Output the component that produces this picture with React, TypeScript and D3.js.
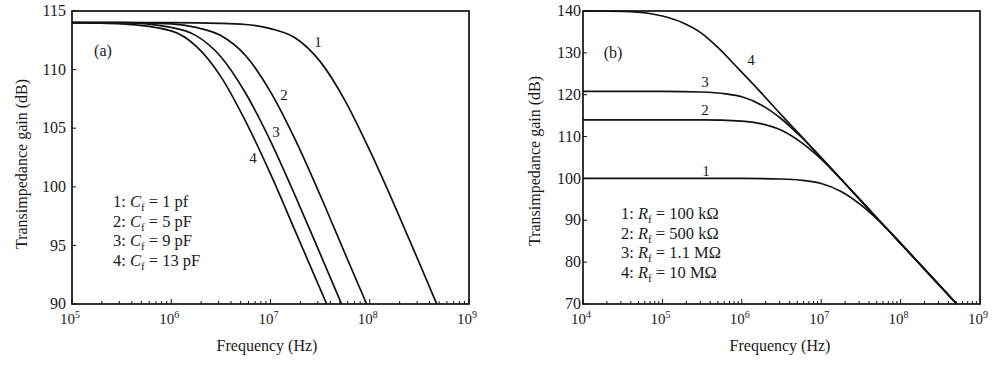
import React from 'react';
import * as d3 from 'd3';

type Pt = [number, number];

// ---------- Panel (a): feedback capacitance ----------
const aXDomain: [number, number] = [1e5, 1e9];
const aYDomain: [number, number] = [90, 115];
const aYTicks = [90, 95, 100, 105, 110, 115];
const aXTickExps = [5, 6, 7, 8, 9];

const aCurve1: Pt[] = [[1e5, 114], [1e6, 114], [3.16e6, 113.95], [5.6e6, 113.85], [1e7, 113.5], [1.78e7, 112.7], [3.16e7, 110.7], [5.6e7, 107.4], [1e8, 103.1], [1.78e8, 98.4], [3.16e8, 93.5], [4.73e8, 90]];
const aCurve2: Pt[] = [[1e5, 114], [3.16e5, 114], [1e6, 113.9], [1.78e6, 113.6], [3.16e6, 112.9], [5.6e6, 111.2], [1e7, 108.1], [1.78e7, 104.0], [3.16e7, 99.3], [5.6e7, 94.35], [9.3e7, 90]];
const aCurve3: Pt[] = [[1e5, 114], [3.16e5, 114], [1e6, 113.6], [1.78e6, 112.9], [3.16e6, 111.1], [5.6e6, 108.0], [1e7, 103.9], [1.78e7, 99.2], [3.16e7, 94.3], [5.2e7, 90]];
const aCurve4: Pt[] = [[1e5, 114], [3.16e5, 113.9], [1e6, 113.3], [1.78e6, 112.0], [3.16e6, 109.4], [5.6e6, 105.6], [1e7, 101.1], [1.78e7, 96.2], [3.16e7, 91.3], [3.68e7, 90]];
const aCurveLabels = ['1', '2', '3', '4'];
const aLegendSymbol = 'C';
const aLegendValues = ['1 pf', '5 pF', '9 pF', '13 pF'];

// ---------- Panel (b): feedback resistance ----------
const bXDomain: [number, number] = [1e4, 1e9];
const bYDomain: [number, number] = [70, 140];
const bYTicks = [70, 80, 90, 100, 110, 120, 130, 140];
const bXTickExps = [4, 5, 6, 7, 8, 9];

const bCurve1: Pt[] = [[1e4, 100], [1e6, 100], [3.16e6, 99.86], [5.6e6, 99.57], [1e7, 98.8], [1.78e7, 96.9], [3.16e7, 93.7], [5.6e7, 89.5], [1e8, 84.5], [2.24e8, 77.3], [5.1e8, 70]];
const bCurve2: Pt[] = [[1e4, 114], [3.16e5, 114], [1e6, 113.7], [1.78e6, 113.05], [3.16e6, 111.5], [5.6e6, 108.6], [1e7, 104.6], [1.78e7, 99.8], [3.16e7, 94.7], [5.6e7, 89.6], [1e8, 84.5], [2.24e8, 77.3], [5.1e8, 70]];
const bCurve3: Pt[] = [[1e4, 120.8], [1e5, 120.8], [3.16e5, 120.65], [6.3e5, 120.2], [1e6, 119.5], [1.78e6, 117.5], [3.16e6, 114.2], [5.6e6, 109.9], [1e7, 105.0], [1.78e7, 99.8], [3.16e7, 94.7], [5.6e7, 89.6], [1e8, 84.5], [2.24e8, 77.3], [5.1e8, 70]];
const bCurve4: Pt[] = [[1e4, 140], [3.16e4, 139.9], [6.9e4, 139.4], [1e5, 138.8], [1.8e5, 137.2], [3.16e5, 134.6], [4.8e5, 131.6], [9.3e5, 126.0], [1.58e6, 121.4], [3.0e6, 115.6], [5.6e6, 110.1], [1e7, 104.9], [1.78e7, 99.8], [3.16e7, 94.7], [5.6e7, 89.6], [1e8, 84.5], [2.24e8, 77.3], [5.1e8, 70]];
const bCurveLabels = ['1', '2', '3', '4'];
const bLegendSymbol = 'R';
const bLegendValues = ['100 k\u03A9', '500 k\u03A9', '1.1 M\u03A9', '10 M\u03A9'];

const xTitle = 'Frequency (Hz)';
const yTitle = 'Transimpedance gain (dB)';

const FONT = '"Liberation Serif", "Times New Roman", serif';

interface PanelProps {
  xDomain: [number, number];
  yDomain: [number, number];
  yTicks: number[];
  xTickExps: number[];
  curves: Pt[][];
  curveLabels: string[];
  curveLabelPos: [number, number][];
  tag: string;
  tagPos: [number, number];
  legendSymbol: string;
  legendValues: string[];
  legendPos: [number, number];
  left: number;
  right: number;
  top: number;
  bottom: number;
  yLabelGap: number;
  yTitleX: number;
  yTitleY: number;
  xTitleX: number;
}

function Panel(p: PanelProps) {
  const x = d3.scaleLog().domain(p.xDomain).range([p.left, p.right]);
  const y = d3.scaleLinear().domain(p.yDomain).range([p.bottom, p.top]);
  const line = d3
    .line<Pt>()
    .x((d) => x(d[0]))
    .y((d) => y(d[1]))
    .curve(d3.curveMonotoneX);
  const allTicks = x.ticks();
  const isMajor = (v: number) => Math.abs(Math.log10(v) - Math.round(Math.log10(v))) < 1e-6;

  return (
    <g fontFamily={FONT} fill="#1a1a1a">
      {p.curves.map((c, i) => (
        <path key={'c' + i} d={line(c) || ''} fill="none" stroke="#111" strokeWidth={1.7} strokeLinejoin="round" />
      ))}
      <rect x={p.left} y={p.top} width={p.right - p.left} height={p.bottom - p.top} fill="none" stroke="#111" strokeWidth={1.7} />
      {allTicks.map((v, i) => (
        <line key={'xt' + i} x1={x(v)} x2={x(v)} y1={p.bottom} y2={p.bottom - (isMajor(v) ? 5 : 3)} stroke="#111" strokeWidth={1} />
      ))}
      {p.yTicks.map((v, i) => (
        <line key={'yt' + i} x1={p.left} x2={p.left + 4} y1={y(v)} y2={y(v)} stroke="#111" strokeWidth={1} />
      ))}
      {p.yTicks.map((v, i) => (
        <text key={'yl' + i} x={p.left - p.yLabelGap} y={y(v)} dy="0.32em" textAnchor="end" fontSize={16}>
          {v}
        </text>
      ))}
      {p.xTickExps.map((e, i) => (
        <text key={'xl' + i} x={x(Math.pow(10, e)) - 2} y={324} textAnchor="middle" fontSize={15}>
          <tspan>10</tspan>
          <tspan dy={-6} fontSize={10}>{e}</tspan>
        </text>
      ))}
      <text x={p.xTitleX} y={351} textAnchor="middle" fontSize={16}>
        {xTitle}
      </text>
      <text transform={`translate(${p.yTitleX},${p.yTitleY}) rotate(-90)`} textAnchor="middle" fontSize={16}>
        {yTitle}
      </text>
      <text x={p.tagPos[0]} y={p.tagPos[1]} textAnchor="middle" dy="0.35em" fontSize={16}>
        {p.tag}
      </text>
      {p.curveLabels.map((l, i) => (
        <text key={'cl' + i} x={p.curveLabelPos[i][0]} y={p.curveLabelPos[i][1]} dy="0.35em" textAnchor="middle" fontSize={15}>
          {l}
        </text>
      ))}
      {p.legendValues.map((v, i) => (
        <text key={'lg' + i} x={p.legendPos[0]} y={p.legendPos[1] + i * 19.7} fontSize={16.5}>
          <tspan>{i + 1}: </tspan>
          <tspan fontStyle="italic">{p.legendSymbol}</tspan>
          <tspan dy={4} fontSize={11}>f</tspan>
          <tspan dy={-4}> = {v}</tspan>
        </text>
      ))}
    </g>
  );
}

export default function App() {
  return (
    <svg
      width={1008}
      height={367}
      viewBox="0 0 1008 367"
      style={{ position: 'absolute', left: 0, top: 0, background: '#fff' }}
    >
      <rect x={0} y={0} width={1008} height={367} fill="#fff" />
      <Panel
        xDomain={aXDomain}
        yDomain={aYDomain}
        yTicks={aYTicks}
        xTickExps={aXTickExps}
        curves={[aCurve1, aCurve2, aCurve3, aCurve4]}
        curveLabels={aCurveLabels}
        curveLabelPos={[[318, 42], [284, 95], [276, 132], [253, 158]]}
        tag="(a)"
        tagPos={[103, 50]}
        legendSymbol={aLegendSymbol}
        legendValues={aLegendValues}
        legendPos={[113, 207]}
        left={72}
        right={469}
        top={11}
        bottom={304}
        yLabelGap={6}
        yTitleX={27}
        yTitleY={164}
        xTitleX={267}
      />
      <Panel
        xDomain={bXDomain}
        yDomain={bYDomain}
        yTicks={bYTicks}
        xTickExps={bXTickExps}
        curves={[bCurve1, bCurve2, bCurve3, bCurve4]}
        curveLabels={bCurveLabels}
        curveLabelPos={[[706, 171], [705, 110], [705, 82], [751, 60]]}
        tag="(b)"
        tagPos={[613, 52]}
        legendSymbol={bLegendSymbol}
        legendValues={bLegendValues}
        legendPos={[621, 219]}
        left={583}
        right={980}
        top={11}
        bottom={304}
        yLabelGap={2}
        yTitleX={540}
        yTitleY={161}
        xTitleX={780}
      />
    </svg>
  );
}
